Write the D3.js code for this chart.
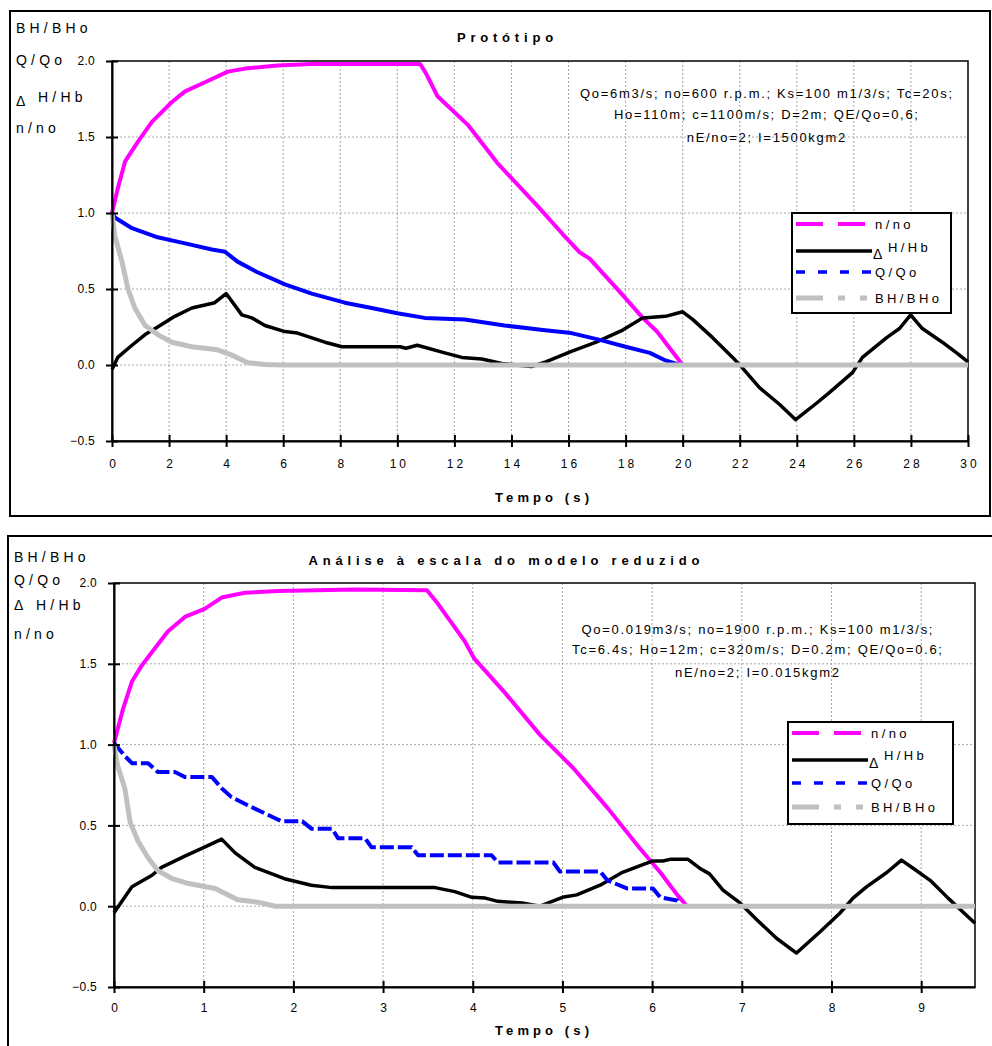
<!DOCTYPE html>
<html>
<head>
<meta charset="utf-8">
<script src="https://cdnjs.cloudflare.com/ajax/libs/d3/7.8.5/d3.min.js"></script>
<style>
  body { margin: 0; background: #fff; }
  text { font-family: "Liberation Sans", Arial, sans-serif; fill: #000; }
  .grid line { stroke: #a8a8a8; stroke-width: 1; stroke-dasharray: 2,2; }
</style>
</head>
<body>
<div id="chart"></div>
<script>

// ---- data ----
var seriesNames = ["n/no", "ΔH/Hb", "Q/Qo", "BH/BHo"];
var sideLabels = ["BH/BHo", "Q/Qo", "ΔH/Hb", "n/no"];
var yTicks = [-0.5, 0, 0.5, 1, 1.5, 2];

// Protótipo (t in s)
var protoTitle = "Protótipo";
var protoNotes = ["Qo=6m3/s; no=600 r.p.m.; Ks=100 m1/3/s; Tc=20s;",
                  "Ho=110m; c=1100m/s; D=2m; QE/Qo=0,6;",
                  "nE/no=2; I=1500kgm2"];
var protoXTicks = [0, 2, 4, 6, 8, 10, 12, 14, 16, 18, 20, 22, 24, 26, 28, 30];
var protoN = [[0,1.0],[0.2,1.16],[0.46,1.34],[0.91,1.47],[1.4,1.6],[2.1,1.73],[2.56,1.8],[3.26,1.86],
  [4.06,1.93],[4.66,1.95],[5.8,1.97],[7,1.98],[10.8,1.98],[11.0,1.92],[11.4,1.77],[12.47,1.58],[13.5,1.33],
  [14.99,1.03],[15.8,0.86],[16.4,0.74],[16.74,0.7],[17.9,0.46],[18.6,0.31],[19.1,0.22],[20,0]];
var protoDH = [[0,-0.03],[0.2,0.05],[0.7,0.13],[1.16,0.2],[1.6,0.25],[2.2,0.32],[2.8,0.375],[3.6,0.41],
  [4.0,0.47],[4.55,0.33],[4.9,0.31],[5.36,0.26],[6.06,0.22],[6.5,0.21],[7.46,0.15],[8.06,0.12],[10.1,0.12],
  [10.3,0.11],[10.7,0.13],[11.66,0.08],[12.26,0.05],[12.96,0.04],[13.66,0.01],[14.7,-0.01],[15.2,0.02],
  [16.1,0.09],[16.97,0.15],[17.9,0.23],[18.6,0.31],[19.4,0.32],[20,0.35],[20.35,0.3],[21.05,0.18],
  [21.75,0.05],[22.1,-0.02],[22.7,-0.15],[23.4,-0.26],[23.96,-0.36],[24.7,-0.25],[25.15,-0.18],
  [25.95,-0.05],[26.3,0.05],[27.15,0.18],[27.6,0.24],[27.99,0.33],[28.4,0.24],[29.1,0.15],[29.6,0.08],[30,0.02]];
var protoQ = [[0,1.0],[0.1,0.97],[0.7,0.9],[1.6,0.84],[2.56,0.8],[3.5,0.76],[3.96,0.745],[4.4,0.68],
  [5.1,0.61],[6.06,0.53],[7.0,0.47],[8.16,0.41],[9.1,0.375],[10.0,0.34],[10.96,0.31],[12.36,0.3],
  [13.76,0.26],[15.1,0.23],[16.1,0.21],[17.1,0.165],[18.0,0.12],[18.85,0.08],[19.4,0.03],[19.9,0]];
var protoBH = [[0,1.0],[0.1,0.85],[0.35,0.68],[0.56,0.5],[0.8,0.375],[1.16,0.26],[1.6,0.2],[2.1,0.15],
  [2.8,0.12],[3.7,0.1],[4.2,0.065],[4.76,0.015],[5.36,0.003],[6,0],[30,0]];

// Análise à escala do modelo reduzido
var modelTitle = "Análise à escala do modelo reduzido";
var modelNotes = ["Qo=0.019m3/s; no=1900 r.p.m.; Ks=100 m1/3/s;",
                  "Tc=6.4s; Ho=12m; c=320m/s; D=0.2m; QE/Qo=0.6;",
                  "nE/no=2; I=0.015kgm2"];
var modelXTicks = [0, 1, 2, 3, 4, 5, 6, 7, 8, 9];
var modelN = [[0,1.01],[0.1,1.22],[0.2,1.39],[0.31,1.49],[0.42,1.57],[0.6,1.7],[0.79,1.79],[1.01,1.84],
  [1.2,1.91],[1.46,1.94],[1.83,1.95],[2.69,1.96],[3.49,1.955],[3.6,1.88],[3.91,1.64],[4.02,1.53],
  [4.36,1.32],[4.75,1.06],[5.12,0.855],[5.5,0.61],[5.86,0.36],[6.09,0.21],[6.28,0.07],[6.39,0]];
var modelDH = [[0,-0.04],[0.2,0.12],[0.42,0.19],[0.53,0.24],[0.79,0.31],[1.01,0.365],[1.2,0.415],
  [1.35,0.33],[1.57,0.24],[1.9,0.17],[2.2,0.13],[2.43,0.115],[3.58,0.115],[3.8,0.09],[3.99,0.055],
  [4.14,0.05],[4.28,0.03],[4.55,0.02],[4.75,0.0],[5.0,0.055],[5.16,0.07],[5.42,0.13],[5.67,0.21],
  [5.86,0.25],[6.01,0.28],[6.12,0.28],[6.2,0.29],[6.4,0.29],[6.53,0.235],[6.64,0.2],[6.79,0.1],
  [6.98,0.02],[7.17,-0.085],[7.39,-0.2],[7.61,-0.29],[7.87,-0.16],[8.09,-0.045],[8.24,0.05],[8.39,0.12],
  [8.62,0.21],[8.78,0.285],[8.91,0.235],[9.1,0.16],[9.3,0.05],[9.6,-0.105]];
var modelQ = [[0,1.01],[0.12,0.93],[0.2,0.885],[0.38,0.885],[0.49,0.83],[0.68,0.83],[0.79,0.8],[1.09,0.8],
  [1.2,0.73],[1.31,0.675],[1.49,0.625],[1.68,0.575],[1.87,0.525],[2.1,0.525],[2.2,0.48],[2.43,0.48],
  [2.5,0.42],[2.8,0.42],[2.87,0.365],[3.32,0.365],[3.39,0.315],[4.21,0.315],[4.28,0.27],[4.9,0.27],
  [4.97,0.215],[5.42,0.215],[5.5,0.16],[5.72,0.11],[6.01,0.11],[6.09,0.055],[6.28,0.035],[6.3,0]];
var modelBH = [[0,1.0],[0.04,0.87],[0.12,0.73],[0.18,0.52],[0.27,0.4],[0.38,0.3],[0.49,0.22],[0.65,0.17],
  [0.83,0.14],[1.13,0.11],[1.2,0.09],[1.38,0.04],[1.6,0.025],[1.8,0],[9.6,0]];

var colors = ["#ff00ff", "#000000", "#0000ff", "#c0c0c0"];

var svgWidth = 992;
var svgHeight = 1046;

var svg = d3.select("#chart")
  .append("svg")
  .attr("width", svgWidth)
  .attr("height", svgHeight);

// text with Excel-like wide letter spacing, centred correctly
function spacedText(parent, x, y, str, size, ls, anchor, bold) {
  var t = parent.append("text")
    .attr("x", x)
    .attr("y", y)
    .attr("font-size", size)
    .attr("letter-spacing", ls)
    .attr("text-anchor", anchor)
    .text(str);
  if (anchor === "middle") t.attr("dx", ls / 2);
  if (bold) t.attr("font-weight", "bold");
  return t;
}

function drawChart(cfg) {
  var g = svg.append("g");
  var p = cfg.plot;

  g.append("rect")
    .attr("x", cfg.frame.x).attr("y", cfg.frame.y)
    .attr("width", cfg.frame.w).attr("height", cfg.frame.h)
    .attr("fill", "none").attr("stroke", "#000").attr("stroke-width", 2);

  var x = d3.scaleLinear().domain(cfg.xDomain).range([p.x, p.x + p.w]);
  var y = d3.scaleLinear().domain([-0.5, 2]).range([p.y + p.h, p.y]);

  // dotted grid
  var grid = g.append("g").attr("class", "grid");
  grid.selectAll(".gx")
    .data(cfg.xTicks.filter(d => d > cfg.xDomain[0] && d < cfg.xDomain[1]))
    .enter().append("line")
    .attr("x1", d => x(d)).attr("x2", d => x(d))
    .attr("y1", p.y).attr("y2", p.y + p.h);
  grid.selectAll(".gy")
    .data(yTicks.filter(d => d > -0.5 && d < 2))
    .enter().append("line")
    .attr("x1", p.x).attr("x2", p.x + p.w)
    .attr("y1", d => y(d)).attr("y2", d => y(d));

  g.append("rect")
    .attr("x", p.x).attr("y", p.y).attr("width", p.w).attr("height", p.h)
    .attr("fill", "none").attr("stroke", "#000").attr("stroke-width", 1.5);

  // curves
  var line = d3.line().x(d => x(d[0])).y(d => y(d[1]));
  cfg.series.forEach(function(s) {
    g.append("path")
      .datum(s.values)
      .attr("d", line)
      .attr("fill", "none")
      .attr("stroke", s.color)
      .attr("stroke-width", s.width)
      .attr("stroke-linejoin", "round")
      .attr("stroke-dasharray", s.dash || null);
  });

  // axes
  var xAxis = g.append("g")
    .attr("transform", `translate(0, ${p.y + p.h})`)
    .call(d3.axisBottom(x).tickValues(cfg.xTicks).tickFormat(d3.format("d"))
      .tickSize(6).tickSizeOuter(0).tickPadding(cfg.xPad));
  xAxis.attr("font-family", null).attr("font-size", null);
  xAxis.select(".domain").attr("stroke-width", 2);
  xAxis.selectAll(".tick line").attr("y1", -6).attr("y2", 6).attr("stroke-width", 2);
  xAxis.selectAll(".tick text")
    .attr("font-size", 12)
    .attr("letter-spacing", cfg.xLs)
    .attr("dx", cfg.xLs / 2);

  var yAxis = g.append("g")
    .attr("transform", `translate(${p.x}, 0)`)
    .call(d3.axisLeft(y).tickValues(yTicks).tickFormat(d3.format(".1f"))
      .tickSize(6).tickSizeOuter(0).tickPadding(11));
  yAxis.attr("font-family", null).attr("font-size", null);
  yAxis.select(".domain").attr("stroke-width", 2);
  yAxis.selectAll(".tick line").attr("x1", -6).attr("x2", 6).attr("stroke-width", 2);
  yAxis.selectAll(".tick text").attr("font-size", 12).attr("letter-spacing", 0.3);

  // titles
  spacedText(g, cfg.titleX, cfg.titleY, cfg.title, 13, 4.8, "middle", true);
  spacedText(g, cfg.xTitleX, cfg.xTitleY, "Tempo (s)", 13, 4.1, "middle", true);

  // stacked y labels on the left
  sideLabels.forEach(function(lab, i) {
    var ty = cfg.sideY[i];
    if (lab.charAt(0) === "Δ") {
      spacedText(g, cfg.frame.x + 6, ty + cfg.deltaDrop, "Δ", 14, 0, "start", false);
      spacedText(g, cfg.frame.x + 28, ty, lab.slice(1), 14, 4.2, "start", false);
    } else {
      spacedText(g, cfg.frame.x + 6, ty, lab, 14, 4.2, "start", false);
    }
  });

  // parameter notes
  cfg.notes.forEach(function(n, i) {
    spacedText(g, cfg.notesX, cfg.notesY[i], n, 13, 1.7, "middle", false);
  });

  // legend
  var L = cfg.legend;
  var lg = g.append("g").attr("transform", `translate(${L.x}, ${L.y})`);
  lg.append("rect")
    .attr("width", L.w).attr("height", L.h)
    .attr("fill", "#fff").attr("stroke", "#000").attr("stroke-width", 2);
  seriesNames.forEach(function(name, i) {
    var ry = L.rows[i];
    var s = cfg.series[i];
    lg.append("line")
      .attr("x1", 4).attr("x2", 80)
      .attr("y1", ry).attr("y2", ry)
      .attr("stroke", s.color)
      .attr("stroke-width", s.legendWidth)
      .attr("stroke-dasharray", s.legendDash || null);
    if (name.charAt(0) === "Δ") {
      spacedText(lg, 81, ry + 8, "Δ", 14, 0, "start", false);
      spacedText(lg, 96, ry + 1 - L.supRise, name.slice(1), 13, 3.4, "start", false);
    } else {
      spacedText(lg, 83, ry + 5, name, 13, 3.4, "start", false);
    }
  });
}

function buildSeries(vals, blueDash) {
  return [
    { values: vals[0], color: colors[0], width: 4, legendWidth: 4, legendDash: "27,15" },
    { values: vals[1], color: colors[1], width: 3.5, legendWidth: 3.5 },
    { values: vals[2], color: colors[2], width: 4, dash: blueDash, legendWidth: 3.5, legendDash: "9,13" },
    { values: vals[3], color: colors[3], width: 5, legendWidth: 5, legendDash: "27,15,7,15,7,15" }
  ];
}

drawChart({
  frame: { x: 10, y: 11, w: 980, h: 505 },
  plot: { x: 112, y: 61, w: 856, h: 380 },
  xDomain: [0, 30],
  xTicks: protoXTicks,
  xPad: 12,
  xLs: 3,
  title: protoTitle,
  titleX: 505, titleY: 42,
  xTitleX: 542, xTitleY: 502,
  sideY: [33, 65, 102, 133],
  deltaDrop: 4,
  notes: protoNotes,
  notesX: 766, notesY: [98, 119, 142],
  legend: { x: 792, y: 213, w: 159, h: 100, rows: [11, 38, 59, 85], supRise: 0 },
  series: buildSeries([protoN, protoDH, protoQ, protoBH], null)
});

drawChart({
  frame: { x: 8, y: 536, w: 1000, h: 540 },
  plot: { x: 114, y: 583, w: 861, h: 404 },
  xDomain: [0, 9.6],
  xTicks: modelXTicks,
  xPad: 10,
  xLs: 0,
  title: modelTitle,
  titleX: 504, titleY: 565,
  xTitleX: 542, xTitleY: 1035,
  sideY: [562, 585, 610, 639],
  deltaDrop: 0,
  notes: modelNotes,
  notesX: 757, notesY: [634, 654, 677],
  legend: { x: 788, y: 722, w: 165, h: 102, rows: [11, 38, 61, 85], supRise: 1 },
  series: buildSeries([modelN, modelDH, modelQ, modelBH], "14,4")
});

</script>
</body>
</html>
